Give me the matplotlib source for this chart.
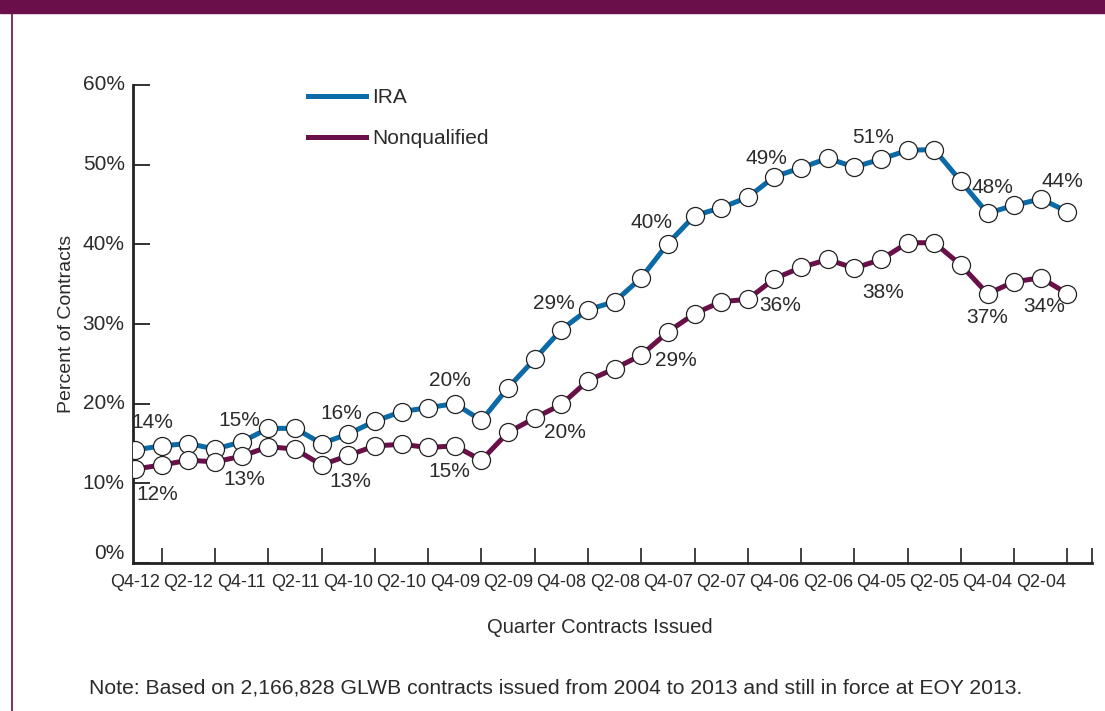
import matplotlib
matplotlib.use("Agg")
import matplotlib.pyplot as plt
from matplotlib.lines import Line2D
from matplotlib.patches import Rectangle

plt.rcParams['font.family'] = ['Liberation Sans', 'DejaVu Sans']

# quarters run backwards from Q4-12 to Q1-04
quarters = []
for yr in range(12, 3, -1):
    for q in (4, 3, 2, 1):
        quarters.append(f"Q{q}-{yr:02d}")

ira = [14.2, 14.7, 15.0, 14.3, 15.2, 16.9, 16.9, 15.0, 16.2, 17.8, 19.0, 19.5,
       20.0, 17.9, 22.0, 25.6, 29.3, 31.8, 32.8, 35.8, 40.1, 43.6, 44.6, 45.9,
       48.5, 49.6, 50.8, 49.7, 50.7, 51.8, 51.9, 47.9, 43.9, 44.9, 45.7, 44.1]
nonqual = [11.8, 12.3, 12.9, 12.7, 13.4, 14.6, 14.3, 12.3, 13.5, 14.7, 14.9, 14.5,
           14.7, 12.9, 16.4, 18.2, 19.9, 22.9, 24.4, 26.1, 29.0, 31.3, 32.8, 33.1,
           35.7, 37.1, 38.1, 37.0, 38.1, 40.2, 40.2, 37.4, 33.8, 35.3, 35.8, 33.8]

# printed labels: (point index, text, pixel offset x, pixel offset y)
ira_labels = [(0, "14%", 17, 27), (4, "15%", -2, 21), (8, "16%", -7, 20),
              (12, "20%", -5, 23), (16, "29%", -7, 26), (20, "40%", -16, 21),
              (24, "49%", -8, 18), (28, "51%", -8, 22), (32, "48%", 5, 26),
              (34, "44%", 22, 17)]
nonqual_labels = [(0, "12%", 22, -26), (4, "13%", 3, -23), (8, "13%", 2, -26),
                  (12, "15%", -5, -26), (16, "20%", 4, -28), (20, "29%", 8, -29),
                  (24, "36%", 6, -27), (28, "38%", 2, -33), (32, "37%", 0, -24),
                  (34, "34%", 3, -29)]

ira_color = "#0b6aa8"
nq_color = "#6a0f49"
text_color = "#2b2b2b"

fig = plt.figure(figsize=(11.05, 7.11), dpi=100)
W, H = 1105, 711

# header bar and left border
fig.patches.append(Rectangle((0, 1 - 13 / H), 1, 13 / H, transform=fig.transFigure,
                             color=nq_color, zorder=0))
fig.lines.append(Line2D([12 / W, 12 / W], [0, 1], transform=fig.transFigure,
                        color=nq_color, lw=1.2))

ax = fig.add_axes([133 / W, (H - 563) / H, (1092 - 133) / W, (563 - 85) / H])
x = list(range(len(quarters)))

for vals, col in ((ira, ira_color), (nonqual, nq_color)):
    ax.plot(x, vals, color=col, lw=3.6, marker='o', markersize=13,
            markerfacecolor='white', markeredgecolor='#222222',
            markeredgewidth=0.9, zorder=3)

for vals, labels in ((ira, ira_labels), (nonqual, nonqual_labels)):
    for i, txt, dx, dy in labels:
        ax.annotate(txt, xy=(i, vals[i]), xytext=(dx, dy), textcoords='offset pixels',
                    ha='center', va='center', fontsize=15, color=text_color, zorder=4)

ax.set_xlim(-0.08, 35.92)
ax.set_ylim(0, 60)
ax.set_yticks(range(0, 61, 10))
ax.set_yticklabels([f"{v}%" for v in range(0, 61, 10)])
ax.set_xticks(x[::2])
ax.set_xticklabels(quarters[::2])
ax.set_xticks(list(range(1, 36)) + [35.92], minor=True)

ax.tick_params(axis='y', direction='in', length=12, width=1.3, pad=6,
               labelsize=15, labelcolor=text_color, color='#222222')
ax.tick_params(axis='x', which='major', length=0, pad=8, labelsize=13,
               labelcolor=text_color)
ax.tick_params(axis='x', which='minor', direction='in', length=11, width=1.2,
               color='#222222')
ylabs = ax.get_yticklabels()
for lab in ylabs:
    lab.set_verticalalignment('center')
ylabs[0].set_verticalalignment('bottom')

for s in ('top', 'right'):
    ax.spines[s].set_visible(False)
for s in ('left', 'bottom'):
    ax.spines[s].set_linewidth(2)
    ax.spines[s].set_color('#222222')

ax.set_ylabel("Percent of Contracts", fontsize=14, color=text_color)
ax.yaxis.set_label_coords(-0.06, 0.5)
ax.set_xlabel("Quarter Contracts Issued", fontsize=14.5, color=text_color)
ax.xaxis.set_label_coords(0.487, -0.115)

handles = [Line2D([], [], color=ira_color, lw=3.6),
           Line2D([], [], color=nq_color, lw=3.6)]
fig.legend(handles, ["IRA", "Nonqualified"], loc='upper left',
           bbox_to_anchor=(308 / W, 1 - 88 / H), frameon=False, fontsize=15,
           handlelength=2.8, handletextpad=0.3, labelspacing=1.05,
           borderpad=0, borderaxespad=0, labelcolor=text_color)

fig.text(556 / W, 1 - 688 / H,
         "Note: Based on 2,166,828 GLWB contracts issued from 2004 to 2013 and still in force at EOY 2013.",
         ha='center', va='center', fontsize=15.2, color=text_color)

fig.savefig("out.png", dpi=100)
